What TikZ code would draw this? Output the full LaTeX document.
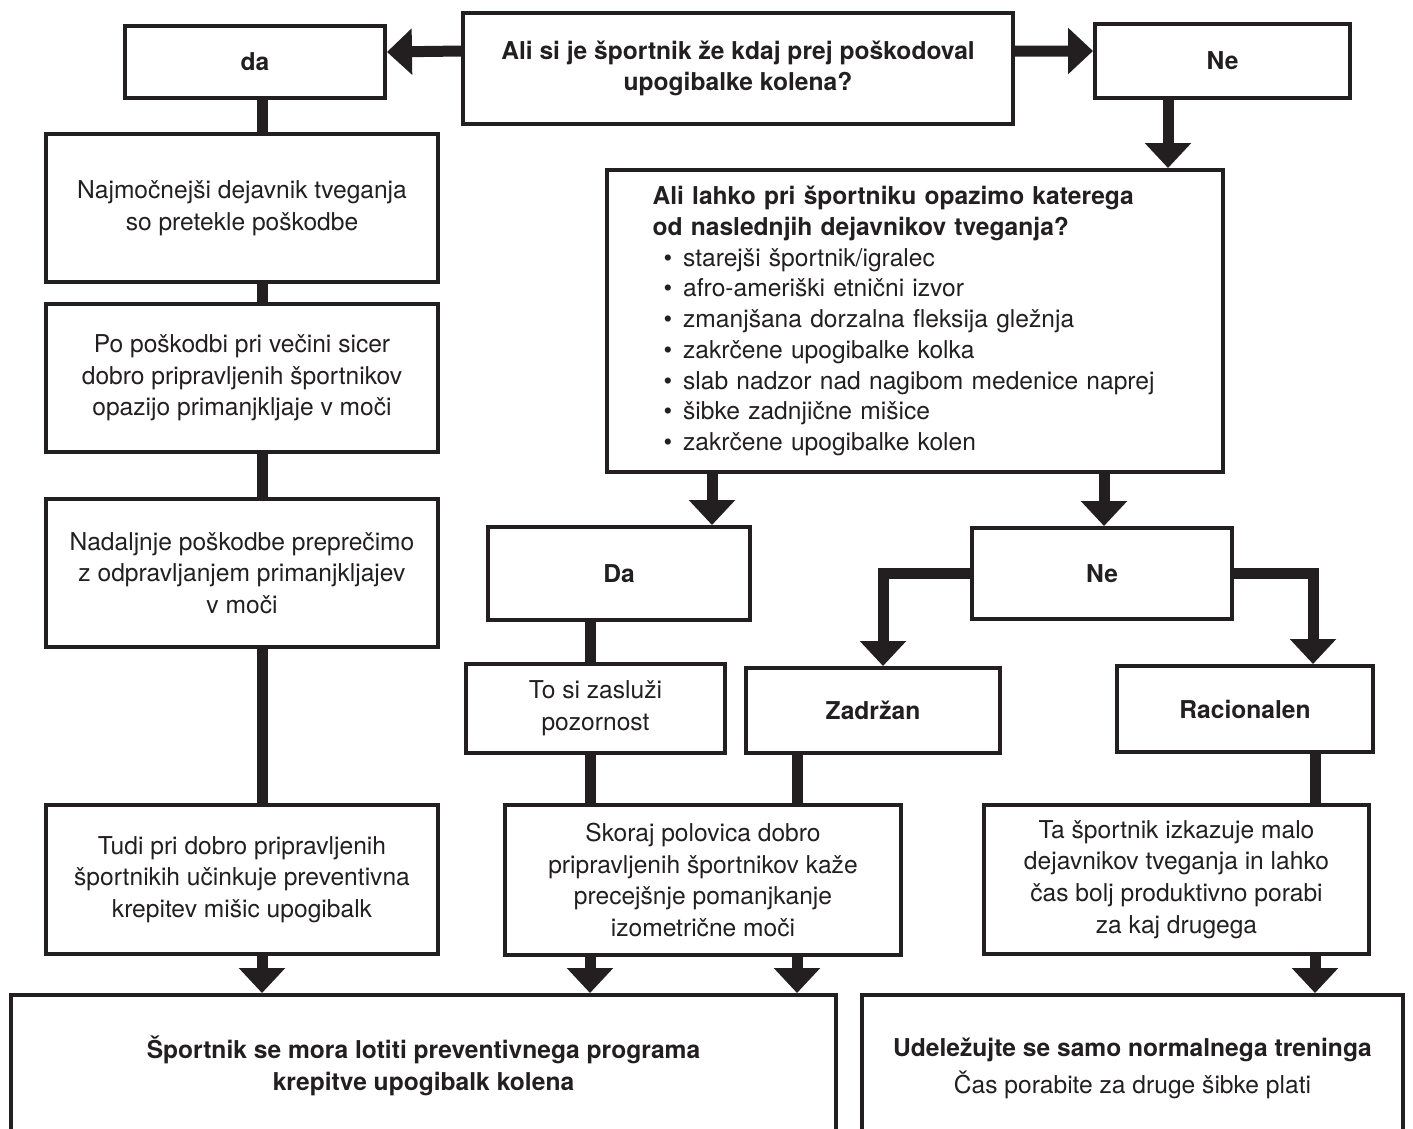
\documentclass[tikz,border=0pt]{standalone}
\usepackage{fontspec}
\setmainfont{TeX Gyre Heros}
\usetikzlibrary{arrows.meta}
\definecolor{crna}{RGB}{35,31,32}
\tikzset{
    okvir/.style={
           rectangle,
           draw=crna, line width=0.08cm,
           text=crna,
           inner sep=0pt,
           align=center,
           font=\fontsize{14}{18}\selectfont},
    okvirb/.style={
           okvir,
           font=\fontsize{14}{18}\selectfont\bfseries},
    crta/.style={draw=crna, line width=0.22cm},
    puscica/.style={crta, -{Triangle[length=0.5cm,width=0.9cm]}}
    }

\begin{document}
\begin{tikzpicture}[x=0.02cm,y=-0.02cm]
\useasboundingbox (0,0) rectangle (1413,1129);
\clip (0,0) rectangle (1413,1129);
\node[okvirb, minimum width=11cm, minimum height=2.22cm] (q1) at (738,68.5)
  {Ali si je športnik že kdaj prej poškodoval\\upogibalke kolena?};
\node[okvirb, minimum width=5.2cm, minimum height=1.44cm] (da) at (255,62) {da};
\node[okvirb, minimum width=5.1cm, minimum height=1.48cm] (ne1) at (1222.5,61) {Ne};
\node[okvir, minimum width=7.84cm, minimum height=2.96cm] (b1) at (242,208)
  {Najmočnejši dejavnik tveganja\\so pretekle poškodbe};
\node[okvir, minimum width=7.84cm, minimum height=2.96cm] (b2) at (242,378)
  {Po poškodbi pri večini sicer\\dobro pripravljenih športnikov\\opazijo primanjkljaje v moči};
\node[okvir, minimum width=7.84cm, minimum height=2.96cm] (b3) at (242,573)
  {Nadaljnje poškodbe preprečimo\\z odpravljanjem primanjkljajev\\v moči};
\node[okvir, minimum width=7.84cm, minimum height=2.98cm] (b4) at (242,879.5)
  {Tudi pri dobro pripravljenih\\športnikih učinkuje preventivna\\krepitev mišic upogibalk};
\node[okvir, minimum width=12.32cm, minimum height=6.04cm, text width=10.5cm, align=left,
      font=\fontsize{14}{17.5}\selectfont] (q2) at (915,321)
  {\textbf{Ali lahko pri športniku opazimo katerega}\\
   \textbf{od naslednjih dejavnikov tveganja?}\\
   \hspace*{0.22cm}\textbullet\hspace{0.22cm}starejši športnik/igralec\\
   \hspace*{0.22cm}\textbullet\hspace{0.22cm}afro-ameriški etnični izvor\\
   \hspace*{0.22cm}\textbullet\hspace{0.22cm}zmanjšana dorzalna fleksija gležnja\\
   \hspace*{0.22cm}\textbullet\hspace{0.22cm}zakrčene upogibalke kolka\\
   \hspace*{0.22cm}\textbullet\hspace{0.22cm}slab nadzor nad nagibom medenice naprej\\
   \hspace*{0.22cm}\textbullet\hspace{0.22cm}šibke zadnjične mišice\\
   \hspace*{0.22cm}\textbullet\hspace{0.22cm}zakrčene upogibalke kolen};
\node[okvirb, minimum width=5.24cm, minimum height=1.86cm] (da2) at (619,573.5) {Da};
\node[okvirb, minimum width=5.2cm, minimum height=1.82cm] (ne2) at (1102,573.5) {Ne};
\node[okvir, minimum width=5.18cm, minimum height=1.78cm] (tosi) at (595.5,708.5)
  {To si zasluži\\pozornost};
\node[okvirb, minimum width=5.08cm, minimum height=1.7cm] (zadrzan) at (873,710.5) {Zadržan};
\node[okvirb, minimum width=5.12cm, minimum height=1.72cm] (racio) at (1245,709) {Racionalen};
\node[okvir, minimum width=7.92cm, minimum height=3cm] (skoraj) at (703,880)
  {Skoraj polovica dobro\\pripravljenih športnikov kaže\\precejšnje pomanjkanje\\izometrične moči};
\node[okvir, minimum width=7.7cm, minimum height=2.98cm] (ta) at (1176.5,879.5)
  {Ta športnik izkazuje malo\\dejavnikov tveganja in lahko\\čas bolj produktivno porabi\\za kaj drugega};
\node[okvirb, minimum width=16.5cm, minimum height=2.84cm] (end1) at (423.5,1066)
  {Športnik se mora lotiti preventivnega programa\\krepitve upogibalk kolena};
\node[okvir, minimum width=10.82cm, minimum height=2.92cm] (end2) at (1132.5,1068)
  {\textbf{Udeležujte se samo normalnega treninga}\\[3pt]Čas porabite za druge šibke plati};

\draw[puscica] ([yshift=0.35cm]q1.west) -- ([yshift=0.2cm]da.east);
\draw[puscica] ([yshift=0.35cm]q1.east) -- ([yshift=0.2cm]ne1.west);
\draw[puscica] (1168,0 |- ne1.south) -- (1168,0 |- q2.north);
\draw[crta] (262,0 |- da.south) -- (262,0 |- b1.north);
\draw[crta] (262,0 |- b1.south) -- (262,0 |- b2.north);
\draw[crta] (262,0 |- b2.south) -- (262,0 |- b3.north);
\draw[crta] (262,0 |- b3.south) -- (262,0 |- b4.north);
\draw[puscica] (262,0 |- b4.south) -- (262,0 |- end1.north);
\draw[puscica] (712,0 |- q2.south) -- (712,0 |- da2.north);
\draw[puscica] (1104,0 |- q2.south) -- (1104,0 |- ne2.north);
\draw[crta] (590,0 |- da2.south) -- (590,0 |- tosi.north);
\draw[puscica] (ne2.west) -| (883,0 |- zadrzan.north);
\draw[puscica] (ne2.east) -| (1313,0 |- racio.north);
\draw[crta] (590,0 |- tosi.south) -- (590,0 |- skoraj.north);
\draw[crta] (797,0 |- zadrzan.south) -- (797,0 |- skoraj.north);
\draw[crta] (1315,0 |- racio.south) -- (1315,0 |- ta.north);
\draw[puscica] (590,0 |- skoraj.south) -- (590,0 |- end1.north);
\draw[puscica] (797,0 |- skoraj.south) -- (797,0 |- end1.north);
\draw[puscica] (1315,0 |- ta.south) -- (1315,0 |- end2.north);
\end{tikzpicture}
\end{document}
